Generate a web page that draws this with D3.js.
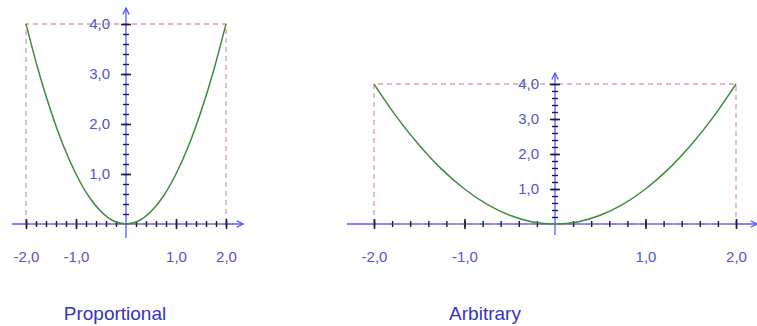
<!DOCTYPE html>
<html>
<head>
<meta charset="utf-8">
<script src="https://cdn.jsdelivr.net/npm/d3@7"></script>
<style>
  html, body { margin: 0; padding: 0; background: #fff; }
  svg { display: block; font-family: 'Liberation Sans', Arial, sans-serif; }
</style>
</head>
<body>
<div class="chart"></div>
<script>
(function () {
    'use strict';

    // parabola (x, y)
    const curveX = [-2, -1.75, -1.5, -1.25, -1, -0.75, -0.5, -0.25, 0, 0.25, 0.5, 0.75, 1, 1.25, 1.5, 1.75, 2];
    const curveY = [4, 3.06, 2.25, 1.56, 1, 0.56, 0.25, 0.06, 0, 0.06, 0.25, 0.56, 1, 1.56, 2.25, 3.06, 4];

    const xMajor = [-2, -1, 1, 2];
    const yMajor = [1, 2, 3, 4];
    const xMinor = [-2, -1.8, -1.6, -1.4, -1.2, -1, -0.8, -0.6, -0.4, -0.2, 0.2, 0.4, 0.6, 0.8, 1, 1.2, 1.4, 1.6, 1.8, 2];
    const yMinor = [0.2, 0.4, 0.6, 0.8, 1, 1.2, 1.4, 1.6, 1.8, 2, 2.2, 2.4, 2.6, 2.8, 3, 3.2, 3.4, 3.6, 3.8, 4];
    const titles = ['Proportional', 'Arbitrary'];

    const panels = [
        { title: titles[0], xr: [26, 226], yr: [224, 24], axisX: [12, 243], axisY: [238, 8], titleX: 115 },
        { title: titles[1], xr: [374, 736], yr: [224, 84], axisX: [347, 757], axisY: [235, 73], titleX: 485 }
    ];

    const fmt = d3.formatLocale({ decimal: ',', thousands: '.', grouping: [3], currency: ['', ''], minus: '-' }).format('.1f');

    const svg = d3.select('.chart').append('svg')
        .attr('width', 757)
        .attr('height', 326);

    const defs = svg.append('defs');
    defs.append('marker')
        .attr('id', 'arrow')
        .attr('viewBox', '0 0 10 10')
        .attr('refX', 9).attr('refY', 5)
        .attr('markerWidth', 8).attr('markerHeight', 8)
        .attr('markerUnits', 'userSpaceOnUse')
        .attr('orient', 'auto')
        .append('path')
        .attr('d', 'M1,1 L9,5 L1,9')
        .attr('fill', 'none')
        .attr('stroke', '#4d4dff')
        .attr('stroke-width', 1.5);

    const points = curveX.map(function (d, i) {
        return [d, curveY[i]];
    });

    panels.forEach(function (p) {
        const x = d3.scaleLinear().domain([-2, 2]).range(p.xr);
        const y = d3.scaleLinear().domain([0, 4]).range(p.yr);
        const g = svg.append('g');

        // axis lines
        g.append('line')
            .attr('x1', p.axisX[0]).attr('x2', p.axisX[1])
            .attr('y1', y(0)).attr('y2', y(0))
            .attr('stroke', '#5a5aff').attr('stroke-width', 1.3)
            .attr('marker-end', 'url(#arrow)');
        g.append('line')
            .attr('x1', x(0)).attr('x2', x(0))
            .attr('y1', p.axisY[0]).attr('y2', p.axisY[1])
            .attr('stroke', '#5a5aff').attr('stroke-width', 1.3)
            .attr('marker-end', 'url(#arrow)');

        // dashed frame (closed, runs over the x axis too)
        const dash = d3.line().x(function (d) { return x(d[0]); }).y(function (d) { return y(d[1]); });
        g.append('path')
            .datum([[-2, 0], [-2, 4], [2, 4], [2, 0], [-2, 0]])
            .attr('d', dash)
            .attr('fill', 'none')
            .attr('stroke', '#d48f8f')
            .attr('stroke-opacity', 0.85)
            .attr('stroke-width', 1.3)
            .attr('stroke-dasharray', '5,4');

        // minor ticks
        g.append('g')
            .attr('transform', 'translate(0,' + y(0) + ')')
            .call(d3.axisBottom(x).tickValues(xMinor).tickSize(3).tickFormat(''))
            .call(function (a) { a.select('.domain').remove(); })
            .call(function (a) {
                a.selectAll('line').attr('y1', -3).attr('stroke', '#1a1a50').attr('stroke-width', 1.4);
            });
        g.append('g')
            .attr('transform', 'translate(' + x(0) + ',0)')
            .call(d3.axisLeft(y).tickValues(yMinor).tickSize(3).tickFormat(''))
            .call(function (a) { a.select('.domain').remove(); })
            .call(function (a) {
                a.selectAll('line').attr('x1', 3).attr('stroke', '#1a1a50').attr('stroke-width', 1.4);
            });

        // major ticks with labels
        g.append('g')
            .attr('transform', 'translate(0,' + y(0) + ')')
            .call(d3.axisBottom(x).tickValues(xMajor).tickSize(5).tickPadding(22).tickFormat(fmt))
            .call(function (a) { a.select('.domain').remove(); })
            .call(function (a) {
                a.selectAll('line').attr('y1', -5).attr('stroke', '#1a1a50').attr('stroke-width', 1.6);
                a.selectAll('text').attr('fill', '#5555c8').style('font-size', '15px').style('font-family', 'inherit');
            });
        g.append('g')
            .attr('transform', 'translate(' + x(0) + ',0)')
            .call(d3.axisLeft(y).tickValues(yMajor).tickSize(5).tickPadding(11).tickFormat(fmt))
            .call(function (a) { a.select('.domain').remove(); })
            .call(function (a) {
                a.selectAll('line').attr('x1', 5).attr('stroke', '#1a1a50').attr('stroke-width', 1.6);
                a.selectAll('text').attr('fill', '#5555c8').style('font-size', '15px').style('font-family', 'inherit');
            });

        // curve
        g.append('path')
            .datum(points)
            .attr('d', d3.line()
                .x(function (d) { return x(d[0]); })
                .y(function (d) { return y(d[1]); })
                .curve(d3.curveNatural))
            .attr('fill', 'none')
            .attr('stroke', '#3f8a3f')
            .attr('stroke-width', 1.5);

        g.append('text')
            .attr('x', p.titleX)
            .attr('y', 320)
            .attr('text-anchor', 'middle')
            .attr('fill', '#3434c0')
            .style('font-size', '19px')
            .text(p.title);
    });
}());
</script>
</body>
</html>
